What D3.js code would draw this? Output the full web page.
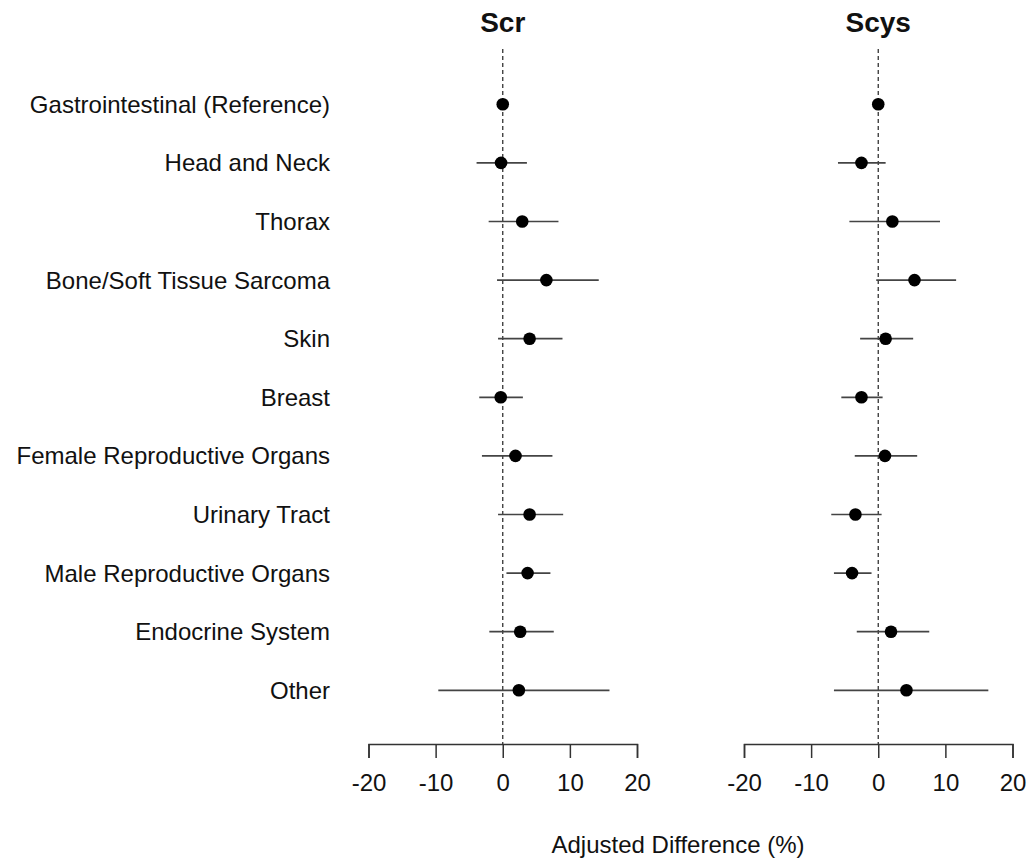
<!DOCTYPE html>
<meta charset="utf-8">
<style>
body { margin: 0; background: #fff; }
text { font-family: "Liberation Sans", Arial, sans-serif; fill: #111; }
.axis path, .axis line { stroke: #333; stroke-width: 1.5px; }
.axis text { font-size: 24px; }
.ci { stroke: #444; stroke-width: 1.7px; }
.ref { stroke: #333; stroke-width: 1.3px; stroke-dasharray: 4,3; }
</style>
<svg width="1031" height="861"></svg>
<script src="https://d3js.org/d3.v7.min.js"></script>
<script>
// cancer sites, top to bottom
var sites = ["Gastrointestinal (Reference)", "Head and Neck", "Thorax", "Bone/Soft Tissue Sarcoma",
  "Skin", "Breast", "Female Reproductive Organs", "Urinary Tract",
  "Male Reproductive Organs", "Endocrine System", "Other"];

// Scr: estimate, lower, upper (reference row has no interval)
var scrEst   = [0, -0.25, 2.9, 6.5, 4.0, -0.3, 1.9, 4.0, 3.7, 2.6, 2.4];
var scrLower = [null, -3.9, -2.1, -0.85, -0.7, -3.5, -3.1, -0.7, 0.55, -2.0, -9.6];
var scrUpper = [null, 3.6, 8.3, 14.3, 8.9, 3.0, 7.4, 9.0, 7.1, 7.6, 15.9];

// Scys
var scysEst   = [0, -2.5, 2.1, 5.4, 1.1, -2.5, 1.0, -3.4, -3.9, 1.9, 4.2];
var scysLower = [null, -6.0, -4.3, -0.3, -2.7, -5.5, -3.5, -7.0, -6.6, -3.2, -6.6];
var scysUpper = [null, 1.1, 9.2, 11.6, 5.2, 0.65, 5.8, 0.5, -1.0, 7.6, 16.4];

var panelTitles = ["Scr", "Scys"];
var xTicks = [-20, -10, 0, 10, 20];
var xLabel = "Adjusted Difference (%)";

var svg = d3.select("svg");

var y = d3.scalePoint().domain(sites).range([104.3, 690.3]);
var axisY = 744;

// category labels
svg.append("g").selectAll("text")
    .data(sites)
  .enter().append("text")
    .attr("x", 330)
    .attr("y", function(d) { return y(d); })
    .attr("dy", "0.35em")
    .attr("text-anchor", "end")
    .style("font-size", "24px")
    .text(function(d) { return d; });

var panels = [
  {title: panelTitles[0], est: scrEst, lo: scrLower, hi: scrUpper, range: [368.5, 637]},
  {title: panelTitles[1], est: scysEst, lo: scysLower, hi: scysUpper, range: [744, 1012.5]}
];

panels.forEach(function(p) {
  var x = d3.scaleLinear().domain([-20, 20]).range(p.range);
  var g = svg.append("g");

  g.append("text")
      .attr("x", x(0))
      .attr("y", 32)
      .attr("text-anchor", "middle")
      .style("font-size", "28px")
      .style("font-weight", "bold")
      .text(p.title);

  g.append("line")
      .attr("class", "ref")
      .attr("x1", x(0)).attr("x2", x(0))
      .attr("y1", 49).attr("y2", axisY);

  var rows = sites.map(function(s, i) {
    return {site: s, est: p.est[i], lo: p.lo[i], hi: p.hi[i]};
  });

  g.selectAll("line.ci")
      .data(rows.filter(function(d) { return d.lo != null; }))
    .enter().append("line")
      .attr("class", "ci")
      .attr("x1", function(d) { return x(d.lo); })
      .attr("x2", function(d) { return x(d.hi); })
      .attr("y1", function(d) { return y(d.site); })
      .attr("y2", function(d) { return y(d.site); });

  g.selectAll("circle")
      .data(rows)
    .enter().append("circle")
      .attr("cx", function(d) { return x(d.est); })
      .attr("cy", function(d) { return y(d.site); })
      .attr("r", 6.3)
      .style("fill", "#000");

  // plain hyphen for negatives, as in the original
  g.append("g")
      .attr("class", "axis")
      .attr("transform", "translate(0," + axisY + ")")
      .call(d3.axisBottom(x).tickValues(xTicks).tickSize(14).tickPadding(16).tickFormat(function(d) { return String(d); }))
      .call(function(a) { a.selectAll("text").style("fill", "#111").style("font-family", "Liberation Sans, Arial, sans-serif"); });
});

svg.append("text")
    .attr("x", 678)
    .attr("y", 845)
    .attr("dy", "0.35em")
    .attr("text-anchor", "middle")
    .style("font-size", "24px")
    .text(xLabel);
</script>
